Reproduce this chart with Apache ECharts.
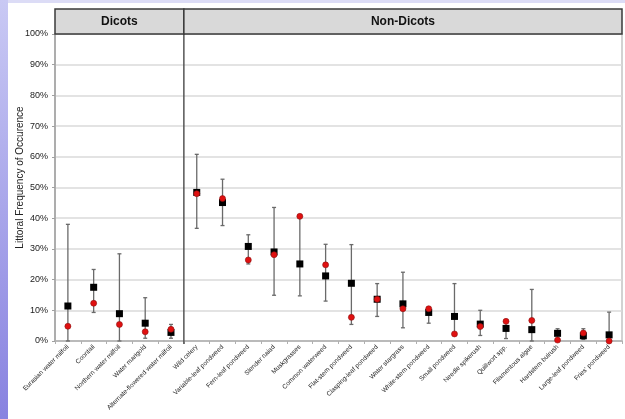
<!DOCTYPE html>
<html><head><meta charset="utf-8">
<script src="https://cdn.jsdelivr.net/npm/echarts@6/dist/echarts.min.js"></script>
<style>html,body{margin:0;padding:0;background:#fff;}#c{width:625px;height:419px;}</style>
</head><body><div id="c"></div>
<script>
var categories = ["Eurasian water milfoil","Coontail","Northern water milfoil","Water marigold","Alternate-flowered water milfoil","Wild celery","Variable-leaf pondweed","Fern-leaf pondweed","Slender naiad","Muskgrasses","Common waterweed","Flat-stem pondweed","Clasping-leaf pondweed","Water stargrass","White-stem pondweed","Small pondweed","Needle spikerush","Quillwort spp.","Filamentous algae","Hardstem bulrush","Large-leaf pondweed","Fries' pondweed"];
var groupNames = ["Dicots","Non-Dicots"];
var groupSizes = [5,17];
var squareValues = [11.4,17.5,8.9,5.8,2.8,48.4,45.1,30.8,29.0,25.1,21.2,18.8,13.6,12.1,9.3,8.0,5.5,4.1,3.7,2.5,1.7,2.0];
var circleValues = [4.8,12.3,5.4,3.0,3.8,48.0,46.4,26.4,28.1,40.6,24.8,7.7,13.6,10.5,10.5,2.3,4.7,6.4,6.7,0.3,2.6,0.0];
var lowValues =  [0,9.3,0,0.9,0.9,36.7,37.6,25.1,14.9,14.7,13.0,5.4,8.0,4.3,5.8,2.3,1.8,0.8,0,0.3,0.5,0];
var highValues = [38.0,23.3,28.4,14.1,5.4,60.8,52.7,34.6,43.5,40.6,31.5,31.4,18.7,22.4,10.5,18.7,10.0,6.4,16.8,4.0,4.0,9.4];
var yTitle = 'Littoral Frequency of Occurence';

var chart = echarts.init(document.getElementById('c'), null, {renderer:'canvas'});
var errData = categories.map(function(c,i){return [i, lowValues[i], highValues[i]];});
var option = {
  animation:false,
  backgroundColor:'#fff',
  grid:{left:55,right:3,top:34,bottom:78,containLabel:false,outerBoundsMode:'none',show:true,borderColor:'#c4c4c4',borderWidth:1.5,backgroundColor:'transparent'},
  xAxis:{type:'category',data:categories,
    axisLine:{lineStyle:{color:'#b0b0b0',width:1.5}},
    axisTick:{show:true,alignWithLabel:false,length:3,lineStyle:{color:'#b0b0b0'}},
    axisLabel:{rotate:45,interval:0,fontSize:6.5,color:'#222',fontFamily:'Liberation Sans, Arial',margin:5,hideOverlap:false},
    splitLine:{show:false}},
  yAxis:{type:'value',min:0,max:100,interval:10,
    axisLine:{show:true,lineStyle:{color:'#a0a0a0',width:1.5}},
    axisTick:{show:true,length:3,lineStyle:{color:'#a0a0a0'}},
    axisLabel:{formatter:function(v){return v+'%';},fontSize:9,color:'#222',fontFamily:'Liberation Sans, Arial',margin:7},
    splitLine:{show:true,lineStyle:{color:'#dadada',width:1.5}}},
  series:[
    {type:'custom',data:errData,z:2,
     renderItem:function(params,api){
       var x=api.value(0);
       var lo=api.coord([x,api.value(1)]);
       var hi=api.coord([x,api.value(2)]);
       var cw=2;
       var st={stroke:'#6a6a6a',lineWidth:1.3};
       return {type:'group',children:[
         {type:'line',shape:{x1:lo[0],y1:lo[1],x2:hi[0],y2:hi[1]},style:st},
         {type:'line',shape:{x1:lo[0]-cw,y1:lo[1],x2:lo[0]+cw,y2:lo[1]},style:st},
         {type:'line',shape:{x1:hi[0]-cw,y1:hi[1],x2:hi[0]+cw,y2:hi[1]},style:st}
       ]};
     }},
    {type:'scatter',data:squareValues,symbol:'rect',symbolSize:7,z:3,
     itemStyle:{color:'#000',opacity:1}},
    {type:'scatter',data:circleValues,symbol:'circle',symbolSize:6,z:4,
     itemStyle:{color:'#e01010',borderColor:'#8a1010',borderWidth:0.6,opacity:1}}
  ]
};
chart.setOption(option);

var c0 = chart.convertToPixel({xAxisIndex:0}, categories[0]);
var c1 = chart.convertToPixel({xAxisIndex:0}, categories[1]);
var step = c1 - c0;
var yTop = chart.convertToPixel({yAxisIndex:0}, 100);
var yBot = chart.convertToPixel({yAxisIndex:0}, 0);
var hdrH = 25;
var graphics = [
  {type:'rect',shape:{x:0,y:0,width:625,height:3},style:{fill:'#dcdcf6'},z:0,silent:true},
  {type:'rect',shape:{x:0,y:0,width:8,height:419},style:{fill:new echarts.graphic.LinearGradient(0,0,0,1,[{offset:0,color:'#c9c9f4'},{offset:1,color:'#8882e0'}])},z:0,silent:true},
  {type:'text',x:20,y:(yTop+yBot)/2-10,rotation:Math.PI/2,
   style:{text:yTitle,font:'10px "Liberation Sans", Arial',fill:'#222',textAlign:'center',textVerticalAlign:'middle'},z:5}
];
var start = 0;
groupSizes.forEach(function(n,g){
  var xl = c0 + (start - 0.5)*step;
  var xr = c0 + (start + n - 0.5)*step;
  graphics.push({type:'rect',shape:{x:xl,y:yTop-hdrH,width:xr-xl,height:hdrH},
    style:{fill:'#d9d9d9',stroke:'#3a3a3a',lineWidth:1.5},z:10});
  graphics.push({type:'text',x:(xl+xr)/2,y:yTop-hdrH/2,
    style:{text:groupNames[g],font:'bold 12px "Liberation Sans", Arial',fill:'#111',textAlign:'center',textVerticalAlign:'middle'},z:11});
  if(g>0){
    graphics.push({type:'line',shape:{x1:xl,y1:yTop-hdrH,x2:xl,y2:yBot+3},style:{stroke:'#555',lineWidth:1.5},z:9});
  }
  start += n;
});
chart.setOption({graphic:graphics});
</script>
</body></html>
